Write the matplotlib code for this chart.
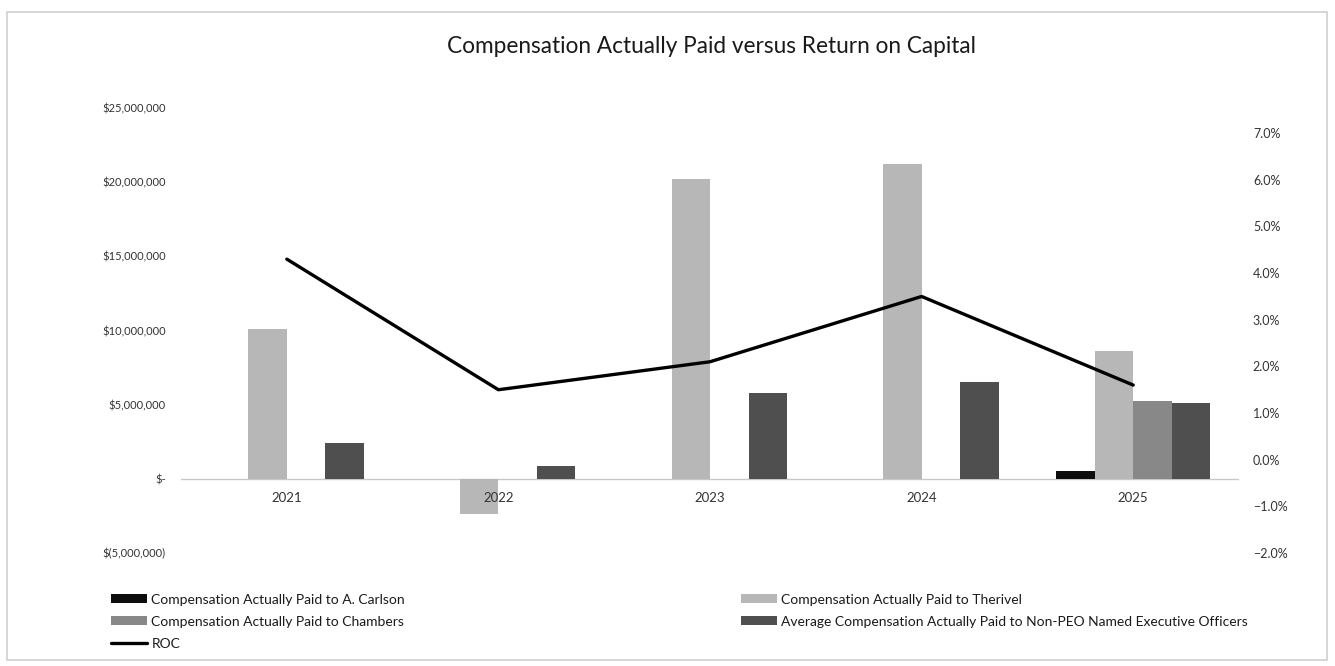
import numpy as np
import matplotlib.pyplot as plt
from matplotlib.patches import Rectangle
from matplotlib.ticker import FuncFormatter, PercentFormatter

plt.rcParams['font.family'] = ['Lato', 'DejaVu Sans']

years = ['2021', '2022', '2023', '2024', '2025']
carlson = [0, 0, 0, 0, 500000]
therivel = [10100000, -2350000, 20200000, 21200000, 8600000]
chambers = [0, 0, 0, 0, 5250000]
avg_neo = [2400000, 870000, 5800000, 6500000, 5100000]
roc = [0.043, 0.015, 0.021, 0.035, 0.016]

series = [
    ('Compensation Actually Paid to A. Carlson', carlson, '#0d0d0d'),
    ('Compensation Actually Paid to Therivel', therivel, '#b7b7b7'),
    ('Compensation Actually Paid to Chambers', chambers, '#888888'),
    ('Average Compensation Actually Paid to Non-PEO Named Executive Officers', avg_neo, '#4f4f4f'),
]

fig = plt.figure(figsize=(13.35, 6.66), dpi=100)
ax = fig.add_axes([0.1356, 0.1697, 0.7925, 0.6681])
ax2 = ax.twinx()

x = np.arange(len(years))
w = 0.182
bars = []
for i, (name, vals, col) in enumerate(series):
    b = ax.bar(x + (i - 1.5) * w, vals, w, color=col, label=name, zorder=2)
    bars.append(b)

line, = ax2.plot(x, roc, color='black', lw=2.4, label='ROC', solid_capstyle='round')

ax.set_xlim(-0.5, len(years) - 0.5)
ax.set_ylim(-5000000, 25000000)
ax.set_yticks(np.arange(-5000000, 25000001, 5000000))


def money(v, pos):
    if v == 0:
        return '$-'
    if v < 0:
        return '$({:,.0f})'.format(-v)
    return '${:,.0f}'.format(v)


ax.yaxis.set_major_formatter(FuncFormatter(money))
ax2.set_ylim(-0.02, 0.0754)
ax2.set_yticks(np.arange(-0.02, 0.0701, 0.01))
ax2.yaxis.set_major_formatter(PercentFormatter(1.0, decimals=1))

for a in (ax, ax2):
    for s in a.spines.values():
        s.set_visible(False)
    a.tick_params(length=0, labelcolor='#333333')
ax.tick_params(axis='y', pad=11, labelsize=8)
ax2.tick_params(axis='y', pad=10, labelsize=9)

ax.axhline(0, color='#c8c8c8', lw=1, zorder=1)
ax.set_xticks([])
for xi, yr in zip(x, years):
    ax.annotate(yr, (xi, 0), xytext=(0, -13), textcoords='offset pixels',
                ha='center', va='top', fontsize=9.5, color='#333333', zorder=3)

ax2.set_zorder(ax.get_zorder() + 1)
ax.patch.set_visible(False)

fig.text(0.533, 0.930, 'Compensation Actually Paid versus Return on Capital',
         ha='center', va='center', fontsize=16.3, color='#1a1a1a')

# legend laid out in two columns like the spreadsheet
leg_kw = dict(frameon=False, fontsize=10, handlelength=2.6, handleheight=0.6,
              handletextpad=0.3, labelspacing=0.72, labelcolor='#1a1a1a')
fig.legend([bars[0], bars[2], line], [series[0][0], series[2][0], 'ROC'],
           loc='upper left', bbox_to_anchor=(0.079, 0.117), borderaxespad=0, **leg_kw)
fig.legend([bars[1], bars[3]], [series[1][0], series[3][0]],
           loc='upper left', bbox_to_anchor=(0.551, 0.117), borderaxespad=0, **leg_kw)

fig.patches.append(Rectangle((0.005, 0.009), 0.989, 0.973, transform=fig.transFigure,
                             fill=False, edgecolor='#d0d0d0', lw=1.2))

fig.savefig('out.png', dpi=100)
